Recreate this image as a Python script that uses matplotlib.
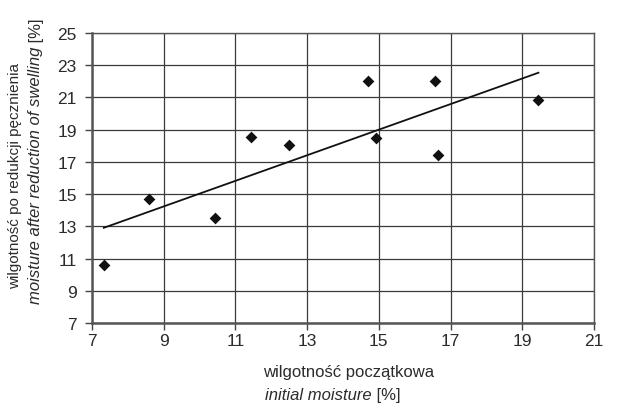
import numpy as np
import matplotlib
matplotlib.use('Agg')
import matplotlib.pyplot as plt

plt.rcParams['font.family'] = ['Liberation Sans Narrow', 'Liberation Sans', 'DejaVu Sans']

# wilgotność początkowa / wilgotność po redukcji pęcznienia [%]
wilg_pocz = [7.33, 8.6, 10.43, 11.43, 12.5, 14.7, 14.92, 16.56, 16.66, 19.45]
wilg_po = [10.6, 14.67, 13.5, 18.52, 18.06, 22.04, 18.48, 22.0, 17.44, 20.86]

x_ticks = list(range(7, 22, 2))
y_ticks = list(range(7, 26, 2))

kolor_txt = '#2b2b2b'
kolor_siatki = '#3a3a3a'

fig = plt.figure(figsize=(6.17, 4.06), dpi=100)
ax = fig.add_axes([92 / 617, 1 - 324 / 406, (594 - 92) / 617, (324 - 34) / 406])

x = np.array(wilg_pocz)
y = np.array(wilg_po)

# linia trendu (regresja liniowa)
a, b = np.polyfit(x, y, 1)
xl = np.array([x.min(), x.max()])
ax.plot(xl, a * xl + b, color='#111111', lw=1.3, zorder=3)

ax.scatter(x, y, marker='D', s=36, color='#111111', zorder=4, linewidths=0)

ax.set_xlim(7, 21)
ax.set_ylim(7, 25)
ax.set_xticks(x_ticks)
ax.set_yticks(y_ticks)
ax.grid(True, color=kolor_siatki, lw=0.9)
ax.set_axisbelow(True)
for s in ax.spines.values():
    s.set_color('#555555')
    s.set_linewidth(1.0)
ax.spines['left'].set_linewidth(1.8)
ax.spines['bottom'].set_linewidth(1.8)
ax.tick_params(direction='out', length=5, width=1, color='#444444',
               labelsize=12.5, labelcolor=kolor_txt)
ax.tick_params(axis='y', pad=6)
ax.tick_params(axis='x', pad=2)

# opis osi X
fs = 12
t1 = fig.text(263 / 617, 1 - 373 / 406, 'wilgotność początkowa', fontsize=fs,
              color=kolor_txt, ha='left', va='center')
t2 = fig.text(265 / 617, 1 - 396 / 406, 'initial moisture', fontsize=fs,
              color=kolor_txt, ha='left', va='center', style='italic')
ax.annotate(' [%]', xy=(1, 0), xycoords=t2, fontsize=fs, color=kolor_txt,
            ha='left', va='bottom', annotation_clip=False)

# opis osi Y
fig.text(15 / 617, 1 - 176 / 406, 'wilgotność po redukcji pęcznienia', fontsize=11,
         color=kolor_txt, rotation=90, ha='center', va='center')
t4 = fig.text(36 / 617, 1 - 304 / 406, 'moisture after reduction of swelling',
              fontsize=fs, color=kolor_txt, rotation=90, ha='center', va='bottom',
              style='italic')
ax.annotate(' [%]', xy=(0.5, 1), xycoords=t4, fontsize=fs, color=kolor_txt,
            rotation=90, ha='center', va='bottom', annotation_clip=False)

fig.savefig('out.png', dpi=100)
